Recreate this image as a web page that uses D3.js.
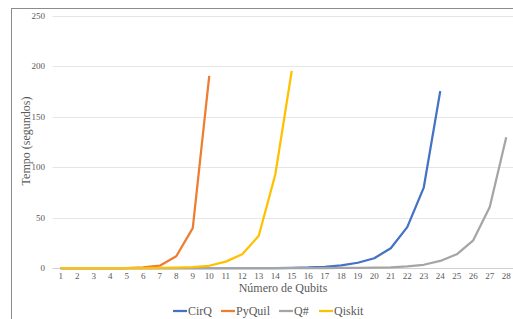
<!DOCTYPE html>
<html lang="pt">
<head>
<meta charset="UTF-8" />
<script src="https://cdnjs.cloudflare.com/ajax/libs/d3/7.8.5/d3.min.js"></script>
<style>
  body { margin: 0; background: #fff; }
  svg { display: block; font-family: "Liberation Serif", "Times New Roman", serif; }
</style>
</head>
<body>
<script>
// numero de qubits
const qubits = d3.range(1, 29);
const yTicks = [0, 50, 100, 150, 200, 250];

// tempo em segundos
const cirq = [0, 0, 0, 0, 0, 0, 0, 0, 0, 0, 0, 0, 0, 0, 0.2, 0.5, 1.2, 2.6, 5.2, 9.7, 19.6, 40.5, 79.8, 175.5];
const pyquil = [0, 0, 0, 0, 0, 0.6, 2.3, 11.7, 39.5, 190.5];
const qsharp = [0, 0, 0, 0, 0, 0, 0, 0, 0, 0, 0, 0, 0, 0, 0, 0, 0, 0.1, 0.2, 0.3, 0.7, 1.5, 3.2, 7, 13.6, 27.5, 60.5, 129.7];
const qiskit = [0, 0, 0, 0, 0, 0, 0.1, 0.3, 0.8, 2.2, 6.3, 13.7, 32, 92.5, 195.5];

const series = [
  { name: "CirQ", values: cirq, color: "#4472C4" },
  { name: "PyQuil", values: pyquil, color: "#ED7D31" },
  { name: "Q#", values: qsharp, color: "#A5A5A5" },
  { name: "Qiskit", values: qiskit, color: "#FFC000" }
];

const W = 513, H = 319;
const svg = d3.select("body").append("svg").attr("width", W).attr("height", H);

// borda do grafico
svg.append("rect")
  .attr("x", 11.5).attr("y", 8.5)
  .attr("width", 520).attr("height", 330)
  .attr("fill", "none").attr("stroke", "#8c8c8c").attr("stroke-width", 1);

const x = d3.scaleBand().domain(qubits).range([52.5, 514.5]);
const y = d3.scaleLinear().domain([0, 250]).range([268, 16]);

// grade
svg.append("g").selectAll("line").data(yTicks.slice(1)).join("line")
  .attr("x1", 52.5).attr("x2", 514.5)
  .attr("y1", d => Math.round(y(d)) + 0.5).attr("y2", d => Math.round(y(d)) + 0.5)
  .attr("stroke", "#e6e6e6");

svg.append("line")
  .attr("x1", 52.5).attr("x2", 514.5)
  .attr("y1", y(0) + 0.5).attr("y2", y(0) + 0.5)
  .attr("stroke", "#d0d0d0");

// rotulos eixo y
svg.append("g").selectAll("text").data(yTicks).join("text")
  .attr("x", 45).attr("y", d => y(d) + 3)
  .attr("text-anchor", "end")
  .attr("font-size", 9).attr("fill", "#595959")
  .text(d => d);

// rotulos eixo x
svg.append("g").selectAll("text").data(qubits).join("text")
  .attr("x", d => x(d) + x.bandwidth() / 2).attr("y", 279)
  .attr("text-anchor", "middle")
  .attr("font-size", 9).attr("fill", "#595959")
  .text(d => d);

// titulos
svg.append("text")
  .attr("x", 283).attr("y", 292)
  .attr("text-anchor", "middle")
  .attr("font-size", 12).attr("fill", "#595959")
  .text("Número de Qubits");

svg.append("text")
  .attr("transform", "translate(30,141) rotate(-90)")
  .attr("text-anchor", "middle")
  .attr("font-size", 12).attr("fill", "#595959")
  .text("Tempo (segundos)");

// linhas
const line = d3.line()
  .x((d, i) => x(qubits[i]) + x.bandwidth() / 2)
  .y(d => y(d));

svg.append("g").selectAll("path").data(series).join("path")
  .attr("d", d => line(d.values))
  .attr("fill", "none")
  .attr("stroke", d => d.color)
  .attr("stroke-width", 2.25)
  .attr("stroke-linejoin", "round");

// legenda
const legendX = [173, 221, 279, 319];
const lg = svg.append("g").selectAll("g").data(series).join("g")
  .attr("transform", (d, i) => `translate(${legendX[i]},311)`);
lg.append("line")
  .attr("x1", 0).attr("x2", 14).attr("y1", 0).attr("y2", 0)
  .attr("stroke", d => d.color).attr("stroke-width", 2.25);
lg.append("text")
  .attr("x", 15).attr("y", 4)
  .attr("font-size", 12).attr("fill", "#595959")
  .text(d => d.name);
</script>
</body>
</html>
